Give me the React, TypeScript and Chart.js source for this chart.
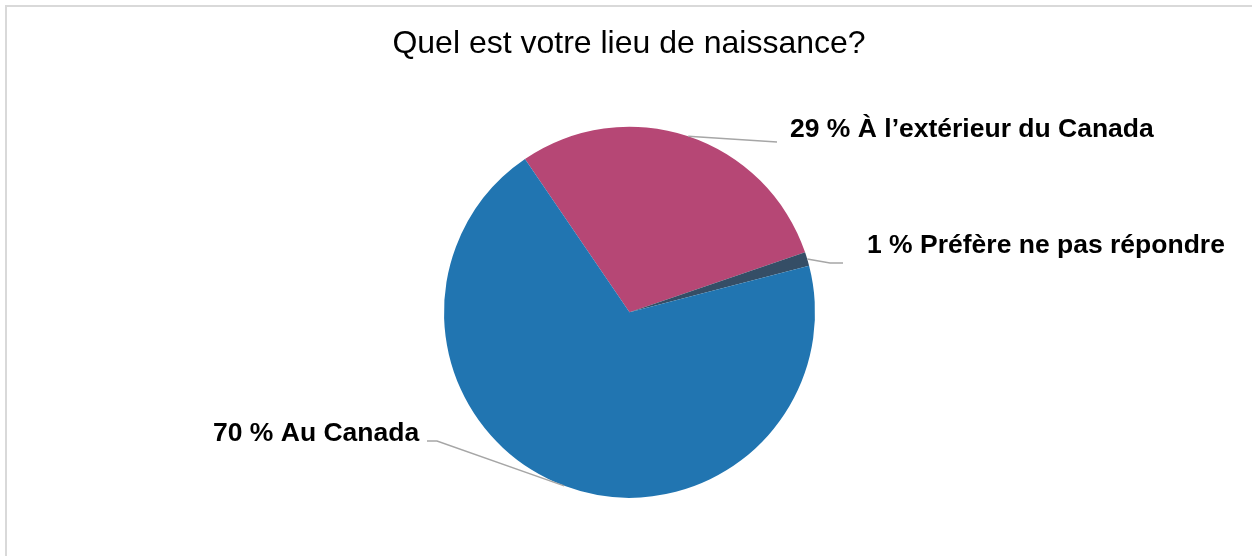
import React, { useEffect, useRef } from "react";
import { Chart, registerables } from "chart.js";

Chart.register(...registerables);

const chartTitle = "Quel est votre lieu de naissance?";
const categories = ["À l’extérieur du Canada", "Préfère ne pas répondre", "Au Canada"];
const values = [29.3, 1.2, 69.5];
const percentLabels = ["29 %", "1 %", "70 %"];
const sliceColors = ["#B64775", "#354E66", "#2175B1"];

// label placement (text anchor + leader line bend points), in pixels
const labelLayout = [
  { x: 790, y: 137, path: [[777, 142]] },
  { x: 867, y: 253, path: [[830, 263], [843, 263]] },
  { x: 213, y: 441, path: [[437, 441], [427, 441]] },
];

const FONT = "'Liberation Sans', Arial, Helvetica, sans-serif";

const decorPlugin = {
  id: "decor",
  beforeDraw(chart: any) {
    const ctx = chart.ctx;
    ctx.save();
    ctx.fillStyle = "#ffffff";
    ctx.fillRect(0, 0, chart.width, chart.height);
    ctx.strokeStyle = "#D9D9D9";
    ctx.lineWidth = 2;
    ctx.strokeRect(6, 6, chart.width + 50, chart.height + 50);
    ctx.fillStyle = "#000000";
    ctx.font = `32px ${FONT}`;
    ctx.textAlign = "center";
    ctx.textBaseline = "alphabetic";
    ctx.fillText(chartTitle, 629, 53);
    ctx.restore();
  },
  afterDatasetsDraw(chart: any) {
    const ctx = chart.ctx;
    const meta = chart.getDatasetMeta(0);
    ctx.save();
    meta.data.forEach((el: any, i: number) => {
      const p = el.getProps(["x", "y", "startAngle", "endAngle", "outerRadius"], true);
      const mid = (p.startAngle + p.endAngle) / 2;
      const sx = p.x + Math.cos(mid) * p.outerRadius;
      const sy = p.y + Math.sin(mid) * p.outerRadius;
      const lay = labelLayout[i];
      ctx.strokeStyle = "#A6A6A6";
      ctx.lineWidth = 1.5;
      ctx.beginPath();
      ctx.moveTo(sx, sy);
      lay.path.forEach((pt) => ctx.lineTo(pt[0], pt[1]));
      ctx.stroke();
      ctx.fillStyle = "#000000";
      ctx.font = `bold 26.5px ${FONT}`;
      ctx.textAlign = "left";
      ctx.textBaseline = "alphabetic";
      ctx.fillText(`${percentLabels[i]} ${categories[i]}`, lay.x, lay.y);
    });
    ctx.restore();
  },
};

export default function App() {
  const ref = useRef<HTMLCanvasElement | null>(null);
  useEffect(() => {
    if (!ref.current) return;
    const chart = new Chart(ref.current, {
      type: "pie",
      data: {
        labels: categories,
        datasets: [
          {
            data: values,
            backgroundColor: sliceColors,
            borderColor: sliceColors,
            borderWidth: 0,
            hoverOffset: 0,
            offset: 0,
          },
        ],
      },
      options: {
        responsive: false,
        animation: false,
        devicePixelRatio: 1,
        rotation: -34.3,
        radius: 185.5,
        layout: { padding: { left: 444, right: 437, top: 126.7, bottom: 58.3 } },
        plugins: {
          legend: { display: false },
          tooltip: { enabled: false },
          title: { display: false },
        },
        events: [],
      } as any,
      plugins: [decorPlugin],
    });
    return () => chart.destroy();
  }, []);
  return (
    <div style={{ position: "fixed", left: 0, top: 0, width: 1252, height: 556, background: "#fff" }}>
      <canvas ref={ref} width={1252} height={556} style={{ display: "block", width: 1252, height: 556 }} />
    </div>
  );
}
